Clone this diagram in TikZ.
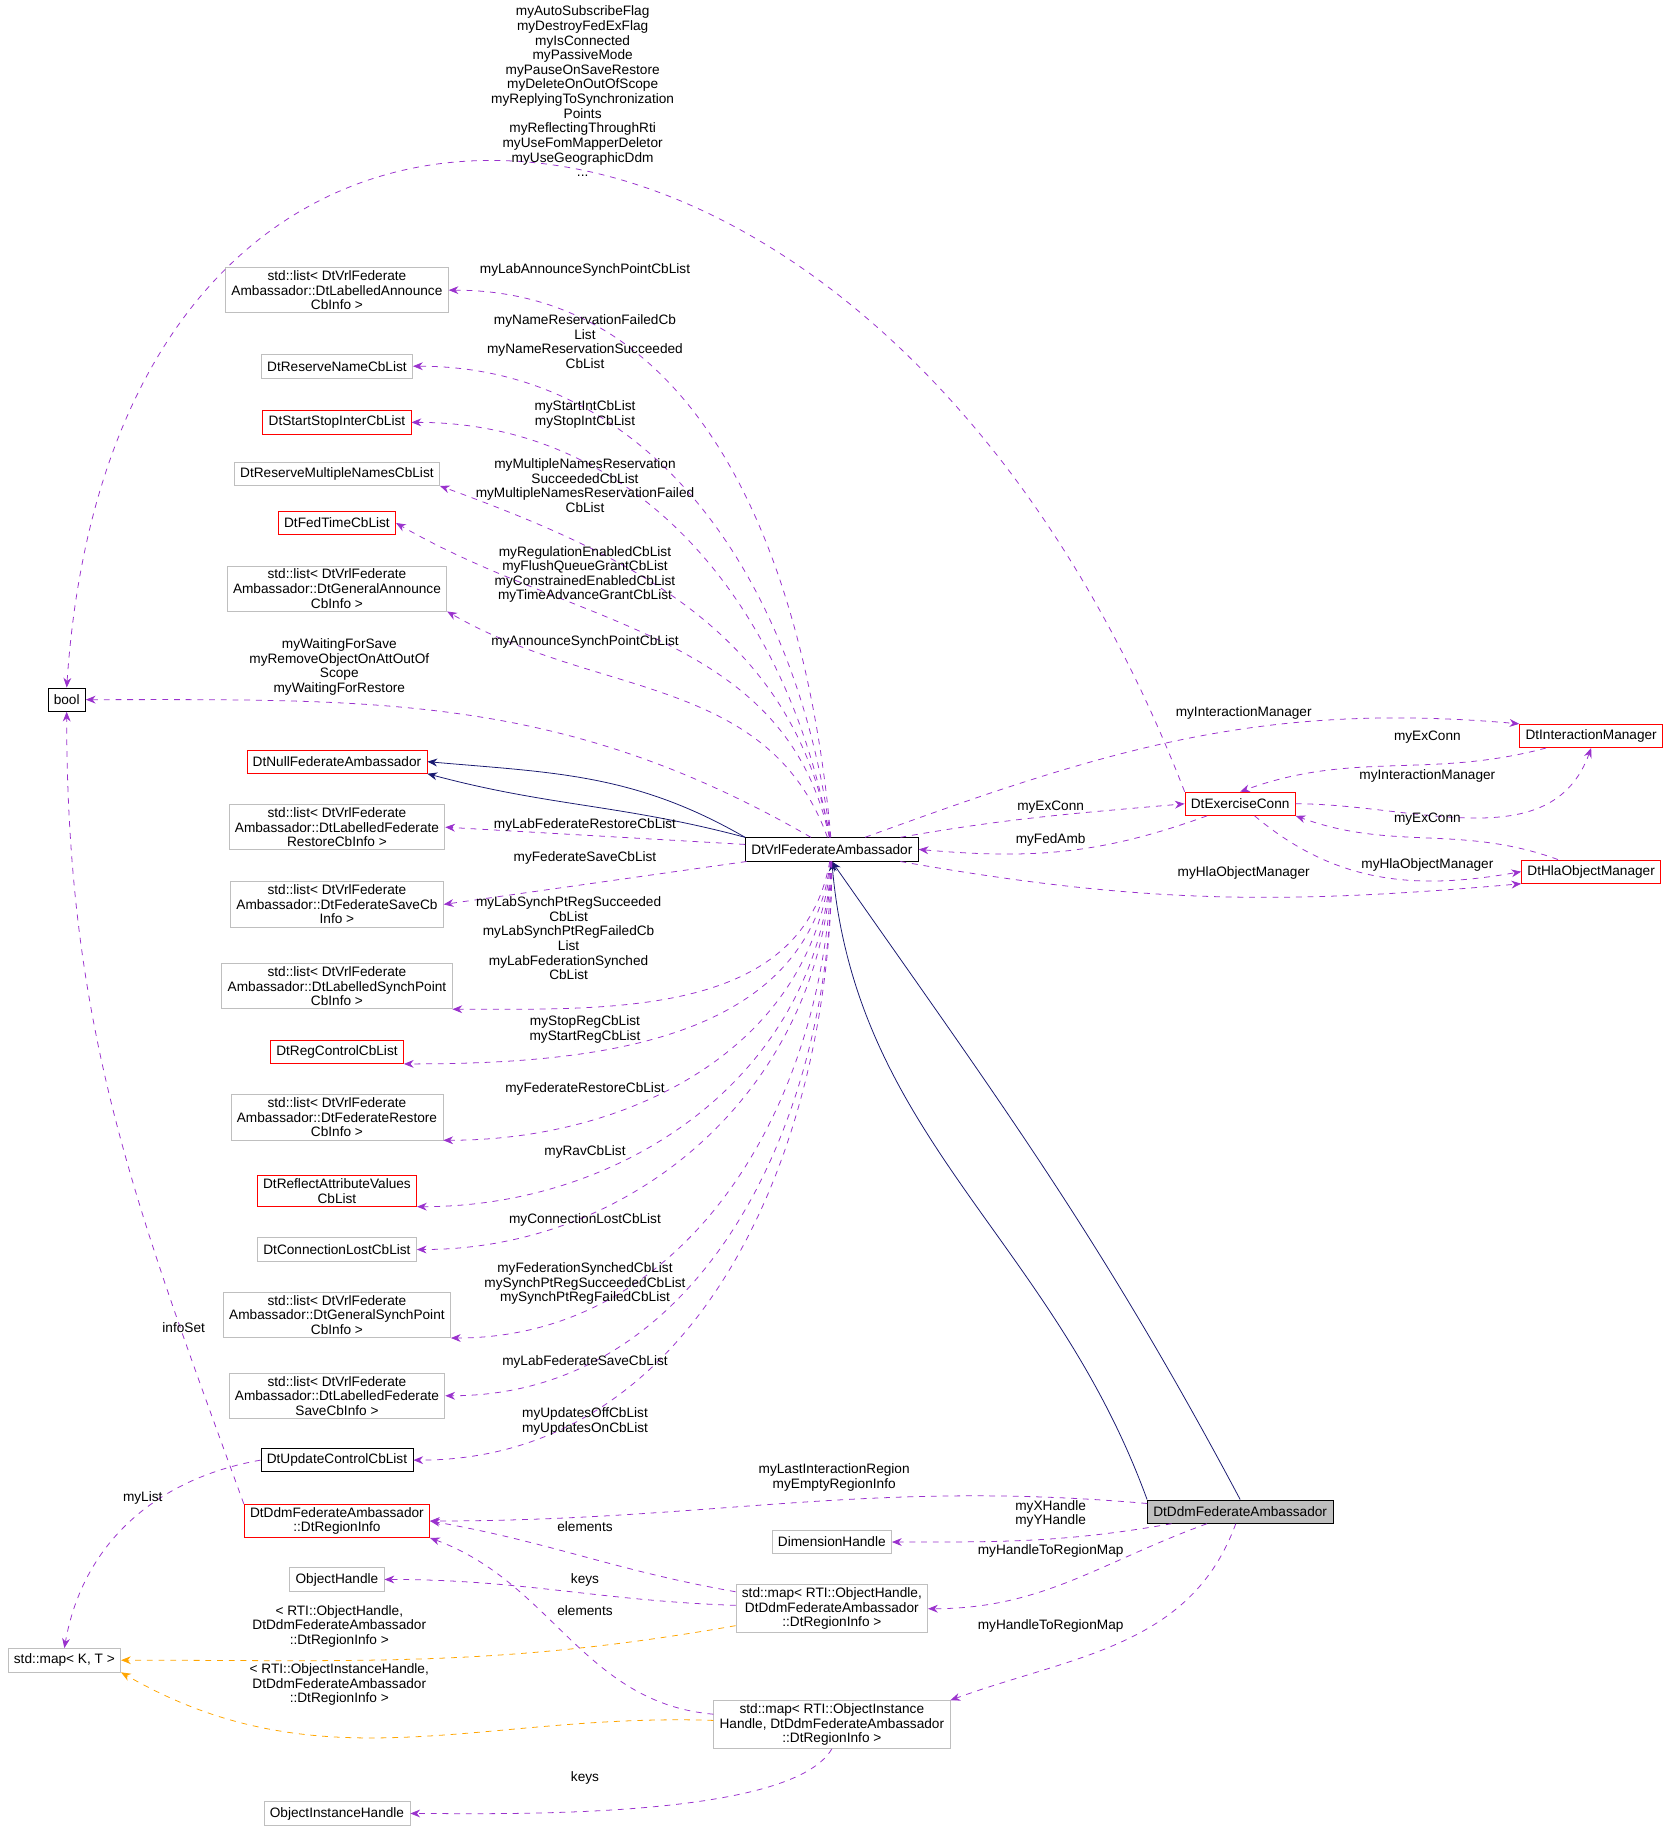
\documentclass[tikz,border=0pt]{standalone}
\usepackage{fontspec}
\setmainfont{Liberation Sans}
\usetikzlibrary{arrows.meta}
\definecolor{dep}{HTML}{9A32CD}
\definecolor{inh}{HTML}{191970}
\definecolor{tpl}{HTML}{FFA500}
\definecolor{grayb}{HTML}{BFBFBF}
\newcommand{\lt}{\textless}
\newcommand{\gt}{\textgreater}
\tikzset{
  box/.style={draw, fill=white, align=center, inner xsep=3pt, inner ysep=1.5pt,
    minimum height=12pt, font=\fontsize{7}{7.5}\selectfont},
  gbox/.style={box, draw=grayb},
  rbox/.style={box, draw=red},
  kbox/.style={box, draw=black},
  lbl/.style={align=center, inner sep=0pt, font=\fontsize{7}{7.5}\selectfont},
  use/.style={dep, dashed, -{Stealth[length=5pt,width=4pt]}},
  tmpl/.style={tpl, dashed, -{Stealth[length=5pt,width=4pt]}},
  base/.style={inh, -{Stealth[length=5pt,width=4pt]}}
}
\begin{document}
\begin{tikzpicture}[x=0.6pt,y=-0.6pt]
  \useasboundingbox (0,0) rectangle (1425,1565);
  \node (bool)[kbox] at (57,598) {bool};
  \node (annlab)[gbox] at (288,248) {std::list\lt{} DtVrlFederate\\Ambassador::DtLabelledAnnounce\\CbInfo \gt};
  \node (resname)[gbox] at (288,313) {DtReserveNameCbList};
  \node (startstop)[rbox] at (288,361) {DtStartStopInterCbList};
  \node (resmulti)[gbox] at (288,405) {DtReserveMultipleNamesCbList};
  \node (fedtime)[rbox] at (288,447) {DtFedTimeCbList};
  \node (anngen)[gbox] at (288,503) {std::list\lt{} DtVrlFederate\\Ambassador::DtGeneralAnnounce\\CbInfo \gt};
  \node (nullfed)[rbox] at (288,651) {DtNullFederateAmbassador};
  \node (restlab)[gbox] at (288,707) {std::list\lt{} DtVrlFederate\\Ambassador::DtLabelledFederate\\RestoreCbInfo \gt};
  \node (savecb)[gbox] at (288,773) {std::list\lt{} DtVrlFederate\\Ambassador::DtFederateSaveCb\\Info \gt};
  \node (synchlab)[gbox] at (288,843) {std::list\lt{} DtVrlFederate\\Ambassador::DtLabelledSynchPoint\\CbInfo \gt};
  \node (regctrl)[rbox] at (288,899) {DtRegControlCbList};
  \node (restcb)[gbox] at (288,955) {std::list\lt{} DtVrlFederate\\Ambassador::DtFederateRestore\\CbInfo \gt};
  \node (reflect)[rbox] at (288,1018) {DtReflectAttributeValues\\CbList};
  \node (connlost)[gbox] at (288,1068) {DtConnectionLostCbList};
  \node (synchgen)[gbox] at (288,1124) {std::list\lt{} DtVrlFederate\\Ambassador::DtGeneralSynchPoint\\CbInfo \gt};
  \node (savelab)[gbox] at (288,1193) {std::list\lt{} DtVrlFederate\\Ambassador::DtLabelledFederate\\SaveCbInfo \gt};
  \node (updctrl)[kbox] at (288,1248) {DtUpdateControlCbList};
  \node (reginfo)[rbox] at (288,1300) {DtDdmFederateAmbassador\\::DtRegionInfo};
  \node (objh)[gbox] at (288,1350) {ObjectHandle};
  \node (objih)[gbox] at (288,1550) {ObjectInstanceHandle};
  \node (stdmap)[gbox] at (55,1419) {std::map\lt{} K, T \gt};
  \node (dimh)[gbox] at (711,1318) {DimensionHandle};
  \node (maph)[gbox] at (711,1375) {std::map\lt{} RTI::ObjectHandle,\\DtDdmFederateAmbassador\\::DtRegionInfo \gt};
  \node (mapih)[gbox] at (711,1474) {std::map\lt{} RTI::ObjectInstance\\Handle, DtDdmFederateAmbassador\\::DtRegionInfo \gt};
  \node (vrl)[kbox] at (711,726) {DtVrlFederateAmbassador};
  \node (ddm)[kbox, fill=grayb] at (1060,1292) {DtDdmFederateAmbassador};
  \node (exc)[rbox] at (1060,687) {DtExerciseConn};
  \node (intmgr)[rbox] at (1360,629) {DtInteractionManager};
  \node (hlamgr)[rbox] at (1360,745) {DtHlaObjectManager};

  % inheritance
  \draw[base] (vrl.north west) to[out=165,in=-15] (nullfed.south east);
  \draw[base] (vrl.north west) to[out=150,in=-5] (nullfed.east);
  \draw[base] (ddm.north west) to[out=110,in=-85] (vrl.south);
  \draw[base] (ddm.north) to[out=118,in=-55] (vrl.south);

  % members of the vrl ambassador
  \draw[use] (vrl) to[out=95,in=0] (annlab.east);
  \draw[use] (vrl) to[out=97,in=0] (resname.east);
  \draw[use] (vrl) to[out=100,in=0] (startstop.east);
  \draw[use] (vrl) to[out=100,in=-20] (resmulti.south east);
  \draw[use] (vrl) to[out=102,in=-30] (fedtime.east);
  \draw[use] (vrl) to[out=110,in=-30] (anngen.south east);
  \draw[use] (vrl) to[out=150,in=0] (bool.east);
  \draw[use] (vrl) -- (restlab.east);
  \draw[use] (vrl) -- (savecb.east);
  \draw[use] (vrl) to[out=-100,in=0] (synchlab.south east);
  \draw[use] (vrl) to[out=-97,in=0] (regctrl.south east);
  \draw[use] (vrl) to[out=-95,in=0] (restcb.south east);
  \draw[use] (vrl) to[out=-93,in=0] (reflect.south east);
  \draw[use] (vrl) to[out=-92,in=0] (connlost.east);
  \draw[use] (vrl) to[out=-91,in=0] (synchgen.south east);
  \draw[use] (vrl) to[out=-90,in=0] (savelab.east);
  \draw[use] (vrl) to[out=-90,in=0] (updctrl.east);
  \draw[use] (vrl) to[out=20,in=175] (intmgr.north west);
  \draw[use] (vrl) to[out=10,in=185] (exc.west);
  \draw[use] (exc) to[out=-160,in=-5] (vrl.east);
  \draw[use] (vrl) to[out=-10,in=185] (hlamgr.south west);

  % exercise connection and managers
  \draw[use] (exc.north west) .. controls (750,0) and (100,-50) .. (bool.north);
  \draw[use] (intmgr) to[out=195,in=20] (exc.north);
  \draw[use] (exc) to[out=0,in=-110] (intmgr.south);
  \draw[use] (hlamgr) to[out=160,in=-20] (exc.south east);
  \draw[use] (exc) to[out=-40,in=190] (hlamgr.west);

  % ddm ambassador
  \draw[use] (ddm) to[out=175,in=0] (reginfo.east);
  \draw[use] (ddm) to[out=190,in=0] (dimh.east);
  \draw[use] (ddm) to[out=-160,in=0] (maph.east);
  \draw[use] (ddm) to[out=-110,in=20] (mapih.north east);
  \draw[use] (maph) to[out=170,in=-10] (reginfo.east);
  \draw[use] (maph) to[out=178,in=0] (objh.east);
  \draw[tmpl] (maph) to[out=-170,in=0] (stdmap.east);
  \draw[use] (mapih) to[out=175,in=-20] (reginfo.south east);
  \draw[tmpl] (mapih) to[out=178,in=-30] (stdmap.south east);
  \draw[use] (mapih.south) to[out=-120,in=0,looseness=0.5] (objih.east);
  \draw[use] (reginfo.north west) to[out=110,in=-90] (bool.south);
  \draw[use] (updctrl.west) to[out=190,in=80] (stdmap.north);

  % labels
  \node (l1)[lbl] at (498,78) {myAutoSubscribeFlag\\myDestroyFedExFlag\\myIsConnected\\myPassiveMode\\myPauseOnSaveRestore\\myDeleteOnOutOfScope\\myReplyingToSynchronization\\Points\\myReflectingThroughRti\\myUseFomMapperDeletor\\myUseGeographicDdm\\...};
  \node (l2)[lbl] at (500,231) {myLabAnnounceSynchPointCbList};
  \node (l3)[lbl] at (500,292) {myNameReservationFailedCb\\List\\myNameReservationSucceeded\\CbList};
  \node (l4)[lbl] at (500,354) {myStartIntCbList\\myStopIntCbList};
  \node (l5)[lbl] at (500,415) {myMultipleNamesReservation\\SucceededCbList\\myMultipleNamesReservationFailed\\CbList};
  \node (l6)[lbl] at (500,491) {myRegulationEnabledCbList\\myFlushQueueGrantCbList\\myConstrainedEnabledCbList\\myTimeAdvanceGrantCbList};
  \node (l7)[lbl] at (500,549) {myAnnounceSynchPointCbList};
  \node (l8)[lbl] at (290,570) {myWaitingForSave\\myRemoveObjectOnAttOutOf\\Scope\\myWaitingForRestore};
  \node (l9)[lbl] at (500,705) {myLabFederateRestoreCbList};
  \node (l10)[lbl] at (500,733) {myFederateSaveCbList};
  \node (l11)[lbl] at (486,802) {myLabSynchPtRegSucceeded\\CbList\\myLabSynchPtRegFailedCb\\List\\myLabFederationSynched\\CbList};
  \node (l12)[lbl] at (500,880) {myStopRegCbList\\myStartRegCbList};
  \node (l13)[lbl] at (500,931) {myFederateRestoreCbList};
  \node (l14)[lbl] at (500,985) {myRavCbList};
  \node (l15)[lbl] at (500,1043) {myConnectionLostCbList};
  \node (l16)[lbl] at (500,1097) {myFederationSynchedCbList\\mySynchPtRegSucceededCbList\\mySynchPtRegFailedCbList};
  \node (l17)[lbl] at (500,1164) {myLabFederateSaveCbList};
  \node (l18)[lbl] at (500,1215) {myUpdatesOffCbList\\myUpdatesOnCbList};
  \node (l19)[lbl] at (1063,609) {myInteractionManager};
  \node (l20)[lbl] at (898,690) {myExConn};
  \node (l21)[lbl] at (898,718) {myFedAmb};
  \node (l22)[lbl] at (1063,746) {myHlaObjectManager};
  \node (l23)[lbl] at (1220,630) {myExConn};
  \node (l24)[lbl] at (1220,663) {myInteractionManager};
  \node (l25)[lbl] at (1220,700) {myExConn};
  \node (l26)[lbl] at (1220,739) {myHlaObjectManager};
  \node (l27)[lbl] at (713,1263) {myLastInteractionRegion\\myEmptyRegionInfo};
  \node (l28)[lbl] at (898,1294) {myXHandle\\myYHandle};
  \node (l29)[lbl] at (898,1326) {myHandleToRegionMap};
  \node (l30)[lbl] at (898,1390) {myHandleToRegionMap};
  \node (l31)[lbl] at (500,1305) {elements};
  \node (l32)[lbl] at (500,1350) {keys};
  \node (l33)[lbl] at (290,1390) {\lt{} RTI::ObjectHandle,\\DtDdmFederateAmbassador\\::DtRegionInfo \gt};
  \node (l34)[lbl] at (500,1377) {elements};
  \node (l35)[lbl] at (290,1440) {\lt{} RTI::ObjectInstanceHandle,\\DtDdmFederateAmbassador\\::DtRegionInfo \gt};
  \node (l36)[lbl] at (500,1520) {keys};
  \node (l37)[lbl] at (157,1135) {infoSet};
  \node (l38)[lbl] at (122,1280) {myList};
\end{tikzpicture}
\end{document}
